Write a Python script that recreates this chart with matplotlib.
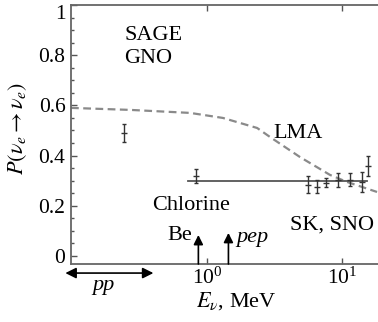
import matplotlib
matplotlib.use('Agg')
import matplotlib.pyplot as plt
import matplotlib.transforms as mtransforms
from matplotlib.ticker import MultipleLocator, NullLocator, FixedLocator

plt.rcParams['font.family'] = ['Liberation Serif', 'DejaVu Serif']
plt.rcParams['mathtext.fontset'] = 'stix'

# LMA survival probability (dashed curve)
lma_E = [0.098, 0.27, 0.75, 1.31, 2.35, 2.93, 4.89, 8.15, 10.9, 18.2]
lma_P = [0.590, 0.582, 0.570, 0.550, 0.510, 0.474, 0.394, 0.323, 0.295, 0.255]

# gallium (SAGE, GNO) and chlorine measurements
ga_E, ga_P, ga_err = [0.243], [0.49], [0.035]
cl_E, cl_P, cl_err = [0.83], [0.32], [0.028]

# SK, SNO spectrum points
sk_E = [5.6, 6.5, 7.6, 9.3, 11.5, 14.1, 15.6]
sk_P = [0.283, 0.275, 0.291, 0.303, 0.303, 0.295, 0.359]
sk_err = [0.034, 0.026, 0.018, 0.028, 0.026, 0.04, 0.04]

# flat high-energy level
flat_E = [0.72, 15.3]
flat_P = [0.30, 0.30]

# line / range sources
be_E = 0.862
pep_E = 1.44
pp_range = [0.089, 0.40]

y_ticks = [0, 0.2, 0.4, 0.6, 0.8, 1.0]
y_ticklabels = ['0', '0.2', '0.4', '0.6', '0.8', '1']

fig = plt.figure(figsize=(3.78, 3.22), dpi=100)
ax = fig.add_axes([71/378, 58/322, 307/378, 259/322])

ax.plot(lma_E, lma_P, '--', color='#8a8a8a', lw=1.6, dashes=(3.5, 2))
ax.plot(flat_E, flat_P, '-', color='#555555', lw=1.3)

ebar = dict(fmt='_', color='#333333', ms=4, elinewidth=1.0, capsize=1.5,
            capthick=1.0, ls='none')
ax.errorbar(ga_E, ga_P, yerr=ga_err, **ebar)
ax.errorbar(cl_E, cl_P, yerr=cl_err, **ebar)
ax.errorbar(sk_E, sk_P, yerr=sk_err, **ebar)

ax.set_xscale('log')
ax.set_xlim(0.098, 18.5)
ax.set_ylim(-0.032, 1.0)

ax.xaxis.set_major_locator(FixedLocator([1, 10]))
ax.xaxis.set_minor_locator(NullLocator())
ax.set_yticks(y_ticks)
ax.set_yticklabels(y_ticklabels)
ax.yaxis.set_minor_locator(MultipleLocator(0.05))

ax.tick_params(which='both', direction='in', top=True, right=False,
               labelsize=15.5, color='#555555', width=1.0)
ax.tick_params(which='major', length=4, pad=4)
ax.tick_params(axis='x', which='major', pad=2.5)
ax.tick_params(which='minor', length=2.5)

# the top label "1" sits a bit lower in the reference
top_lbl = ax.get_yticklabels()[-1]
top_lbl.set_transform(top_lbl.get_transform() +
                      mtransforms.ScaledTranslation(0, -7/100, fig.dpi_scale_trans))

for s in ['left', 'bottom', 'top']:
    ax.spines[s].set_color('#666666')
    ax.spines[s].set_linewidth(1.3)
ax.spines['right'].set_visible(False)

def px(x, y):
    # pixel position (from top-left) to figure fraction
    return (x / 378, 1 - y / 322)

fig.text(*px(124, 40), 'SAGE', fontsize=16, va='baseline')
fig.text(*px(124, 63), 'GNO', fontsize=16, va='baseline')
fig.text(*px(273, 138), 'LMA', fontsize=16, va='baseline')
fig.text(*px(152, 210), 'Chlorine', fontsize=16, va='baseline')
fig.text(*px(167, 240), 'Be', fontsize=16, va='baseline')
fig.text(*px(236, 242), 'pep', fontsize=16, va='baseline', style='italic')
fig.text(*px(290, 230), 'SK, SNO', fontsize=16, va='baseline')
fig.text(*px(92, 290), 'pp', fontsize=16, va='baseline', style='italic')

fig.text(*px(236, 307), r'$E_\nu$, MeV', fontsize=16, va='baseline', ha='center')
fig.text(*px(18, 128), r'$P(\nu_e \rightarrow \nu_e)$', fontsize=16,
         rotation=90, ha='center', va='center')

# source arrows
arr = dict(arrowstyle='-|>', color='black', lw=1.2, mutation_scale=14,
           shrinkA=0, shrinkB=0)
ax.annotate('', xy=(be_E, 0.112), xycoords=('data', 'axes fraction'),
            xytext=(be_E, 0.0), textcoords=('data', 'axes fraction'),
            arrowprops=arr)
ax.annotate('', xy=(pep_E, 0.12), xycoords=('data', 'axes fraction'),
            xytext=(pep_E, 0.0), textcoords=('data', 'axes fraction'),
            arrowprops=arr)
ax.annotate('', xy=(pp_range[0], -0.035), xycoords=('data', 'axes fraction'),
            xytext=(pp_range[1], -0.035), textcoords=('data', 'axes fraction'),
            arrowprops=dict(arrowstyle='<|-|>', color='black', lw=1.2,
                            mutation_scale=16, shrinkA=0, shrinkB=0),
            annotation_clip=False)

fig.savefig('out.png', dpi=100)
